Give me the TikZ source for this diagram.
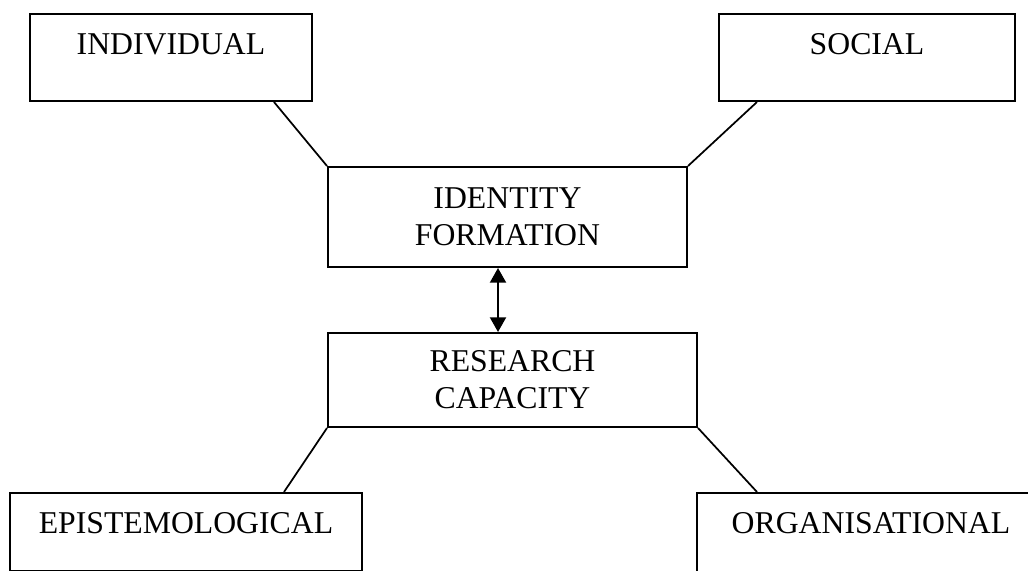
\documentclass[tikz,border=0pt]{standalone}
\usepackage{fontspec}
\setmainfont{Liberation Serif}
\usetikzlibrary{arrows.meta,calc}
\begin{document}
\begin{tikzpicture}[x=0.75pt,y=-0.75pt]
		\tikzset{box/.style = {shape=rectangle,draw,line width=1.5pt,inner sep=0pt,align=center,font=\fontsize{23.8}{27.8}\selectfont}}
		\tikzset{topbox/.style = {box,anchor=north,text height=30.5pt}}
		\tikzset{link/.style = {draw,line width=1.3pt}}
		\tikzset{biarrow/.style = {<->,>={Triangle[width=12pt,length=11pt]},line width=1.5pt}}
		\useasboundingbox (0,0) rectangle (1028,571);
		\node[topbox,minimum width=211.5pt,text depth=34.75pt] (ind) at (171,13) {INDIVIDUAL};
		\node[topbox,minimum width=222pt,text depth=34.75pt] (soc) at (867,13) {SOCIAL};
		\node[box,minimum width=269.25pt,minimum height=75pt] (idf) at (507.5,217) {IDENTITY\\FORMATION};
		\node[box,minimum width=276.75pt,minimum height=70.5pt] (rc) at (512.5,380) {RESEARCH\\CAPACITY};
		\node[topbox,minimum width=264pt,text depth=27.75pt] (epi) at (186,492) {EPISTEMOLOGICAL};
		\node[topbox,minimum width=261pt,text depth=52.5pt] (org) at (871,492) {ORGANISATIONAL};
		\path[link] ($(ind.south east)+(-39,0)$) edge (idf.north west);
		\path[link] ($(soc.south west)+(39,0)$) edge (idf.north east);
		\path[link] (rc.south west) edge ($(epi.north east)+(-79,0)$);
		\path[link] (rc.south east) edge ($(org.north west)+(61,0)$);
		\draw[biarrow] ($(idf.south)+(-9.5,0)$) -- ($(rc.north)+(-14.5,0)$);
	\end{tikzpicture}
\end{document}
